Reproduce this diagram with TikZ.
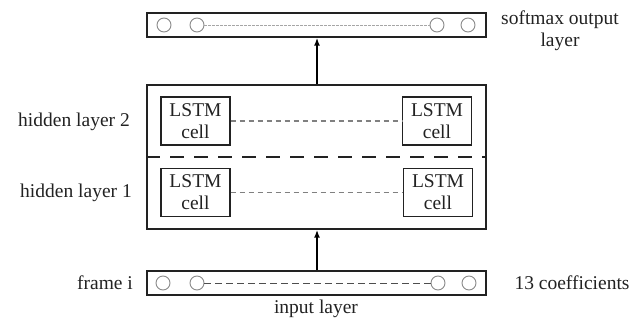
\documentclass[tikz,border=0pt]{standalone}
\usepackage{fontspec}
\setmainfont{Liberation Serif}
\usetikzlibrary{arrows.meta}
\definecolor{ink}{HTML}{222222}
\definecolor{circ}{HTML}{8A8A8A}
\tikzset{
  lbl/.style={font=\fontsize{19.5}{22}\selectfont, text=ink, inner sep=0pt},
  layerbox/.style={draw=ink, line width=1.4pt, minimum width=339pt, inner sep=0pt},
  cellbox/.style={draw=ink, line width=1.3pt, minimum width=69pt, minimum height=48pt, align=center, inner sep=0pt, font=\fontsize{19.5}{22}\selectfont, text=ink},
  unit/.style={circle, draw=circ, line width=0.9pt, minimum size=14pt, inner sep=0pt},
  celllink/.style={draw=gray, line width=1.1pt, dash pattern=on 5pt off 4pt},
  outlink/.style={draw=gray!70, line width=0.9pt, dash pattern=on 2.5pt off 1.5pt},
  inlink/.style={draw=ink!80, line width=1pt, dash pattern=on 7pt off 4pt},
  flow/.style={draw=black, line width=1.6pt, -{Latex[length=8pt,width=6pt]}},
}
\begin{document}
\begin{tikzpicture}[x=1pt,y=-1pt]
\useasboundingbox (0,0) rectangle (640,321);
% layer boxes
\node[layerbox, minimum height=24pt] (out) at (316.5,25) {};
\node[layerbox, minimum height=144pt] (hid) at (316.5,157) {};
\node[layerbox, minimum height=24pt] (inp) at (316.5,283) {};
% separator between hidden layers
\coordinate (sepL) at (hid.west |- 0,157);
\coordinate (sepR) at (hid.east |- 0,157);
\draw[draw=ink, line width=1.8pt, dash pattern=on 14pt off 10pt] (sepL) -- (sepR);
% LSTM cells
\node[cellbox] (c2a) at (195.5,121) {LSTM\\cell};
\node[cellbox] (c2b) at (437,121) {LSTM\\cell};
\node[cellbox] (c1a) at (195.5,192.5) {LSTM\\cell};
\node[cellbox] (c1b) at (438,192.5) {LSTM\\cell};
\draw[celllink] (c2a) -- (c2b);
\draw[celllink] (c1a) -- (c1b);
% output units
\node[unit] (o1) at (164,25) {};
\node[unit] (o2) at (197,25) {};
\node[unit] (o3) at (437,25) {};
\node[unit] (o4) at (468,25) {};
\draw[outlink] (o2) -- (o3);
% input units
\node[unit] (i1) at (163,283) {};
\node[unit] (i2) at (197,283) {};
\node[unit] (i3) at (438,283) {};
\node[unit] (i4) at (469,283) {};
\draw[inlink] (i2) -- (i3);
% arrows
\draw[flow] (inp.north -| 317,0) -- (hid.south -| 317,0);
\draw[flow] (hid.north -| 317,0) -- (out.south -| 317,0);
% labels
\node[lbl] (l2) at (74,122) {hidden layer 2};
\node[lbl] (l1) at (76,193) {hidden layer 1};
\node[lbl] (fr) at (105,283) {frame i};
\node[lbl] (co) at (572,283) {13 coefficients};
\node[lbl, align=center] (sm) at (560,31) {softmax output\\layer};
\node[lbl] (il) at (316,309) {input layer};
\end{tikzpicture}
\end{document}
